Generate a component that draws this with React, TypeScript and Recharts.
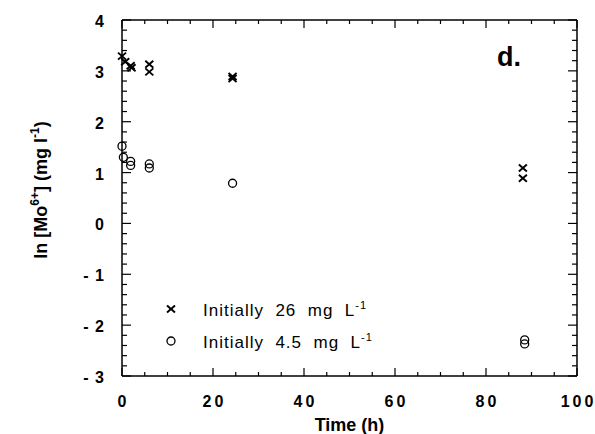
import React from 'react';
import { ScatterChart, Scatter, XAxis, YAxis, Legend } from 'recharts';

// Initially 26 mg L-1 (crosses)
const series26 = [
  { t: 0, v: 3.29 },
  { t: 0.7, v: 3.18 },
  { t: 1.9, v: 3.1 },
  { t: 2.1, v: 3.06 },
  { t: 6, v: 3.13 },
  { t: 6, v: 2.98 },
  { t: 24.3, v: 2.89 },
  { t: 24.3, v: 2.85 },
  { t: 88.1, v: 1.09 },
  { t: 88.1, v: 0.89 },
];

// Initially 4.5 mg L-1 (circles)
const series45 = [
  { t: 0, v: 1.52 },
  { t: 0.3, v: 1.3 },
  { t: 1.9, v: 1.22 },
  { t: 1.9, v: 1.14 },
  { t: 6, v: 1.17 },
  { t: 6, v: 1.09 },
  { t: 24.3, v: 0.79 },
  { t: 88.5, v: -2.29 },
  { t: 88.5, v: -2.37 },
];

const xTicks = [0, 5, 10, 15, 20, 25, 30, 35, 40, 45, 50, 55, 60, 65, 70, 75, 80, 85, 90, 95, 100];
const xMajorTicks = [0, 20, 40, 60, 80, 100];
const yTicks = [
  -3, -2.8, -2.6, -2.4, -2.2, -2, -1.8, -1.6, -1.4, -1.2, -1, -0.8, -0.6, -0.4, -0.2,
  0, 0.2, 0.4, 0.6, 0.8, 1, 1.2, 1.4, 1.6, 1.8, 2, 2.2, 2.4, 2.6, 2.8, 3, 3.2, 3.4, 3.6, 3.8, 4,
];
const yMajorTicks = [-3, -2, -1, 0, 1, 2, 3, 4];

const legendLabels = ['Initially  26  mg  L', 'Initially  4.5  mg  L'];
const panelLabel = 'd.';

const FONT = '"Liberation Sans", Arial, Helvetica, sans-serif';

const isMajor = (v: number, majors: number[]) => majors.some((m) => Math.abs(m - v) < 1e-6);

const renderBottomTick = (props: any) => {
  const { x, y, payload } = props;
  const major = isMajor(payload.value, xMajorTicks);
  return (
    <g>
      <line x1={x} x2={x} y1={y} y2={y - (major ? 8 : 4)} stroke="#000" strokeWidth={1.2} />
      {major && (
        <text x={x + 1.5} y={y + 31} textAnchor="middle" fontFamily={FONT} fontWeight="bold" fontSize={16} fill="#000" letterSpacing={3}>
          {payload.value}
        </text>
      )}
    </g>
  );
};

const renderTopTick = (props: any) => {
  const { x, y, payload } = props;
  const major = isMajor(payload.value, xMajorTicks);
  return (
    <g>
      <line x1={x} x2={x} y1={y} y2={y + (major ? 8 : 4)} stroke="#000" strokeWidth={1.2} />
    </g>
  );
};

const renderLeftTick = (props: any) => {
  const { x, y, payload } = props;
  const major = isMajor(payload.value, yMajorTicks);
  return (
    <g>
      <line x1={x} x2={x + (major ? 9 : 5)} y1={y} y2={y} stroke="#000" strokeWidth={1.2} />
      {major && (
        <text x={x - 17} y={y + 7} textAnchor="end" fontFamily={FONT} fontWeight="bold" fontSize={16} fill="#000" letterSpacing={1}>
          {String(payload.value).replace('-', '- ')}
        </text>
      )}
    </g>
  );
};

const renderRightTick = (props: any) => {
  const { x, y, payload } = props;
  const major = isMajor(payload.value, yMajorTicks);
  return (
    <g>
      <line x1={x} x2={x - (major ? 9 : 5)} y1={y} y2={y} stroke="#000" strokeWidth={1.2} />
    </g>
  );
};

const CrossMark = (props: any) => {
  const { cx, cy } = props;
  if (cx == null || cy == null) return null;
  return (
    <g stroke="#000" strokeWidth={1.9}>
      <line x1={cx - 4} y1={cy - 3.5} x2={cx + 4} y2={cy + 3.5} />
      <line x1={cx - 4} y1={cy + 3.5} x2={cx + 4} y2={cy - 3.5} />
    </g>
  );
};

const CircleMark = (props: any) => {
  const { cx, cy } = props;
  if (cx == null || cy == null) return null;
  return <circle cx={cx} cy={cy} r={4} fill="none" stroke="#000" strokeWidth={1.3} />;
};

const NoMark = () => <g />;

const YLabel = (props: any) => {
  const vb = props.viewBox || { x: 0, y: 19, width: 122, height: 357 };
  const cx = vb.x + 47;
  const cy = vb.y + 170;
  return (
    <text
      x={cx}
      y={cy}
      transform={`rotate(-90 ${cx} ${cy})`}
      textAnchor="middle"
      fontFamily={FONT}
      fontWeight="bold"
      fontSize={18}
      fill="#000"
    >
      <tspan>ln [Mo</tspan>
      <tspan fontSize={12} dy={-8}>6+</tspan>
      <tspan dy={8}>] (mg l</tspan>
      <tspan fontSize={12} dy={-8}>-1</tspan>
      <tspan dy={8}>)</tspan>
    </text>
  );
};

const XLabel = (props: any) => {
  const vb = props.viewBox || { x: 122, y: 376, width: 455, height: 58 };
  const cx = vb.x + vb.width / 2;
  return (
    <text x={cx} y={vb.y + 55} textAnchor="middle" fontFamily={FONT} fontWeight="bold" fontSize={18} fill="#000">
      Time (h)
    </text>
  );
};

const LegendContent = () => (
  <div style={{ fontFamily: FONT, fontSize: 17, color: '#000', letterSpacing: 1 }}>
    <div style={{ display: 'flex', alignItems: 'center', height: 32 }}>
      <svg width={12} height={12} style={{ marginRight: 26 }}>
        <CrossMark cx={6} cy={5} />
      </svg>
      <span style={{ whiteSpace: 'pre' }}>
        {legendLabels[0]}
        <sup style={{ fontSize: 11 }}>-1</sup>
      </span>
    </div>
    <div style={{ display: 'flex', alignItems: 'center', height: 32 }}>
      <svg width={12} height={12} style={{ marginRight: 26 }}>
        <CircleMark cx={6} cy={5} />
      </svg>
      <span style={{ whiteSpace: 'pre' }}>
        {legendLabels[1]}
        <sup style={{ fontSize: 11 }}>-1</sup>
      </span>
    </div>
  </div>
);

export default function App() {
  return (
    <div style={{ position: 'absolute', left: 0, top: 0, width: 595, height: 434, background: '#fff' }}>
      <ScatterChart width={595} height={434} margin={{ top: 19, right: 17, bottom: 0, left: 0 }}>
        <XAxis
          type="number"
          dataKey="t"
          xAxisId="b"
          domain={[0, 100]}
          ticks={xTicks}
          interval={0}
          height={58}
          stroke="#000"
          strokeWidth={1.5}
          tickSize={0}
          tickMargin={0}
          tickLine={false}
          tick={renderBottomTick}
          label={{ content: <XLabel /> }}
        />
        <XAxis
          type="number"
          dataKey="t"
          xAxisId="top"
          orientation="top"
          domain={[0, 100]}
          ticks={xTicks}
          interval={0}
          height={1}
          stroke="#000"
          strokeWidth={1.5}
          tickSize={0}
          tickMargin={0}
          tickLine={false}
          tick={renderTopTick}
        />
        <YAxis
          type="number"
          dataKey="v"
          yAxisId="l"
          domain={[-3, 4]}
          ticks={yTicks}
          interval={0}
          width={122}
          stroke="#000"
          strokeWidth={1.5}
          tickSize={0}
          tickMargin={0}
          tickLine={false}
          tick={renderLeftTick}
          label={{ content: <YLabel /> }}
        />
        <YAxis
          type="number"
          dataKey="v"
          yAxisId="r"
          orientation="right"
          domain={[-3, 4]}
          ticks={yTicks}
          interval={0}
          width={1}
          stroke="#000"
          strokeWidth={1.5}
          tickSize={0}
          tickMargin={0}
          tickLine={false}
          tick={renderRightTick}
        />
        <Scatter data={series26} xAxisId="b" yAxisId="l" shape={<CrossMark />} isAnimationActive={false} />
        <Scatter data={series45} xAxisId="b" yAxisId="l" shape={<CircleMark />} isAnimationActive={false} />
        <Scatter data={series26} xAxisId="top" yAxisId="r" shape={<NoMark />} legendType="none" isAnimationActive={false} />
        <Legend
          layout="vertical"
          align="center"
          verticalAlign="middle"
          content={<LegendContent />}
          wrapperStyle={{ position: 'absolute', left: 165, top: 294, width: 280, height: 64 }}
        />
      </ScatterChart>
      <div
        style={{
          position: 'absolute',
          left: 497,
          top: 44,
          fontFamily: FONT,
          fontWeight: 'bold',
          fontSize: 27,
          lineHeight: '27px',
          color: '#000',
        }}
      >
        {panelLabel}
      </div>
    </div>
  );
}
